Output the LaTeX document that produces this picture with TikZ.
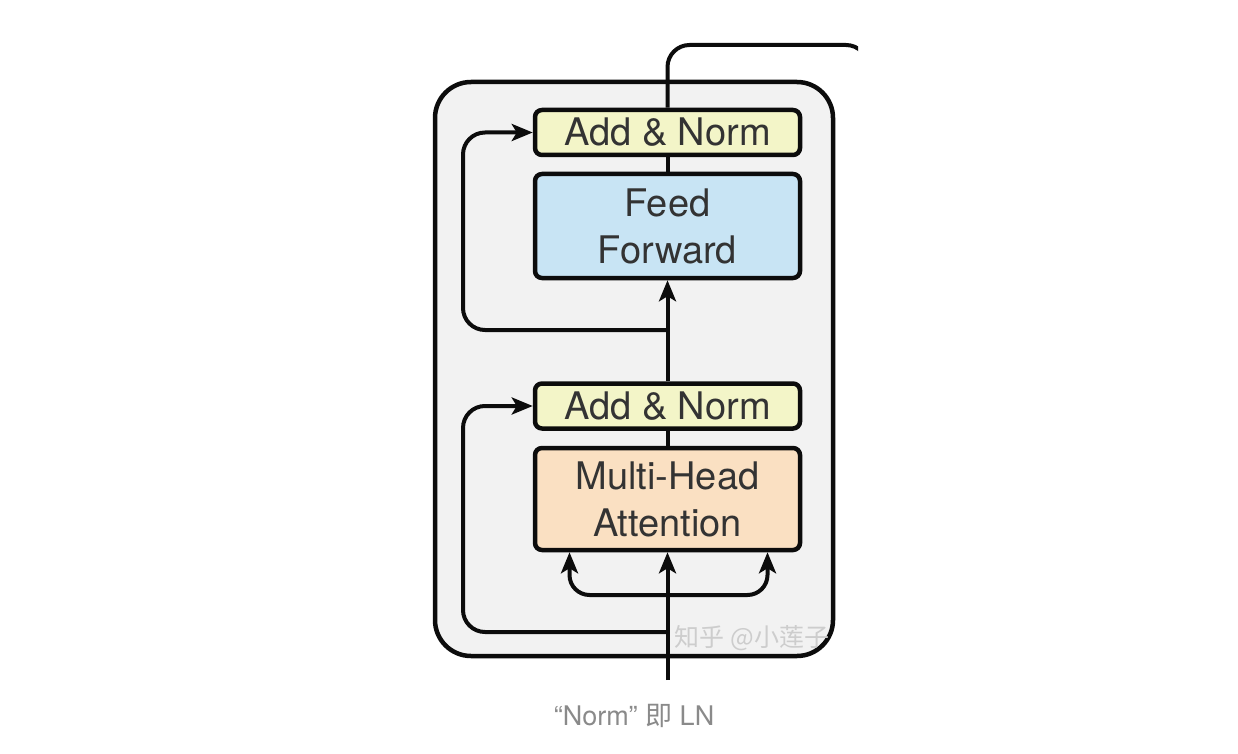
\documentclass[tikz,border=0pt]{standalone}
\usepackage{fontspec}
\setmainfont{TeX Gyre Heros}
\newfontfamily\cjkfont{Noto Sans CJK SC}
\usetikzlibrary{arrows.meta, positioning}
\definecolor{boxline}{RGB}{12,12,12}
\definecolor{panelgray}{RGB}{242,242,242}
\definecolor{normyellow}{RGB}{243,245,200}
\definecolor{ffblue}{RGB}{200,228,244}
\definecolor{attpeach}{RGB}{250,224,194}
\definecolor{captgray}{RGB}{138,138,138}
\definecolor{markgray}{RGB}{205,205,205}
\tikzset{
  layer/.style={rectangle, draw=boxline, line width=4.5pt,
    rounded corners=7pt, minimum width=265pt, inner sep=0pt,
    text=black!80, font=\fontsize{38}{47}\selectfont, align=center},
  normbox/.style={layer, fill=normyellow, minimum height=45pt},
  ffbox/.style={layer, fill=ffblue, minimum height=104pt},
  attbox/.style={layer, fill=attpeach, minimum height=102pt},
  panel/.style={rectangle, draw=boxline, fill=panelgray, line width=4.5pt,
    rounded corners=36pt, minimum width=398pt, minimum height=574pt},
  flow/.style={line width=4pt, color=boxline},
  arrow/.style={flow, -{Stealth[length=21pt,width=17pt,inset=5pt]}},
  caption/.style={font=\fontsize{27}{32}\selectfont, text=captgray},
  watermark/.style={font=\cjkfont\fontsize{25}{30}\selectfont, text=markgray}
}
\begin{document}
\begin{tikzpicture}[x=1pt, y=-1pt]
  \useasboundingbox[fill=white] (0,0) rectangle (1238,754);
  % encoder block
  \node[panel] (encoder) at (634,369) {};
  \node[ffbox] (ff) at (667.5,226) {Feed\\Forward};
  \node[normbox] (addtop) at (667.5,132.5) {Add \& Norm};
  \node[normbox] (addlow) at (667.5,406) {Add \& Norm};
  \node[attbox] (mha) at (667.5,499) {Multi-Head\\Attention};
  \coordinate (input) at (667.5,680);
  \coordinate (split) at (667.5,595);
  \coordinate (tap1) at (667.5,632);
  \coordinate (tap2) at (667.5,330);
  % main flow
  \draw[arrow] (input) -- (mha.south);
  \draw[flow] (mha.north) -- (addlow.south);
  \draw[arrow] (addlow.north) -- (ff.south);
  \draw[flow] (ff.north) -- (addtop.south);
  \begin{scope}
    \clip (0,0) rectangle (858,754);
    \draw[flow, rounded corners=22pt] (addtop.north) |- (868,45) -- (868,120);
  \end{scope}
  % q, k, v
  \draw[arrow, rounded corners=20pt] (split) -| ([xshift=-98pt]mha.south);
  \draw[arrow, rounded corners=20pt] (split) -| ([xshift=100pt]mha.south);
  % residuals
  \draw[arrow, rounded corners=22pt] (tap1) -- (463,632) |- (addlow.west);
  \draw[arrow, rounded corners=22pt] (tap2) -- (463,330) |- (addtop.west);
  \node[watermark] (mark) at (752,638) {知乎 @小莲子};
  \node[caption] (note) at (634,716) {“Norm” {\cjkfont 即} LN};
\end{tikzpicture}
\end{document}
